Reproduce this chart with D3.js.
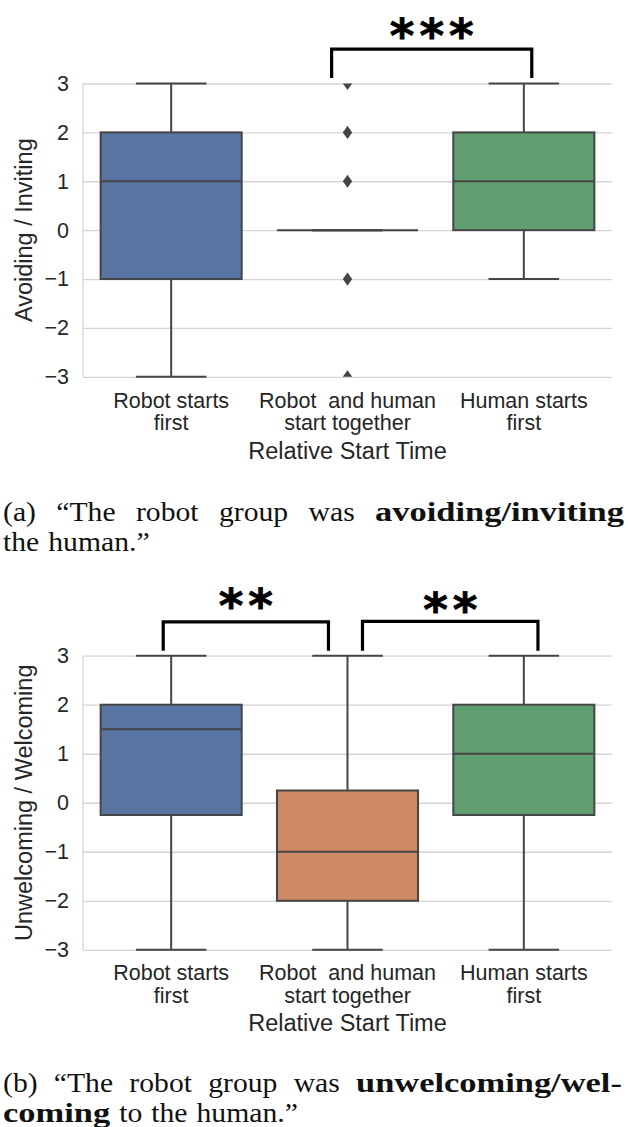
<!DOCTYPE html>
<html>
<head>
<meta charset="utf-8">
<script src="https://cdn.jsdelivr.net/npm/d3@7"></script>
<style>
  body { margin: 0; background: #ffffff; }
  svg { display: block; }
</style>
</head>
<body>
<svg id="chart" width="628" height="1127"></svg>
<script>
// ---------------- data ----------------
const categories = [["Robot starts", "first"], ["Robot  and human", "start together"], ["Human starts", "first"]];
const yTicks = [-3, -2, -1, 0, 1, 2, 3];
const boxColors = ["#5875a4", "#cc8963", "#5f9e6e"];
const xAxisTitle = "Relative Start Time";

// panel (a): Avoiding / Inviting
const aTitle = "Avoiding / Inviting";
const aWhiskerLow  = [-3, 0, -1];
const aQ1          = [-1, 0, 0];
const aMedian      = [1, 0, 1];
const aQ3          = [2, 0, 2];
const aWhiskerHigh = [3, 0, 3];
const aOutliers    = [[], [3, 2, 1, -1, -3], []];
const aBrackets    = [{ from: 0.91, to: 2.045, top: 3.705, leg: 3.11, label: "***", labelAt: 4.2 }];

// panel (b): Unwelcoming / Welcoming
const bTitle = "Unwelcoming / Welcoming";
const bWhiskerLow  = [-3, -3, -3];
const bQ1          = [-0.25, -2, -0.25];
const bMedian      = [1.5, -1, 1];
const bQ3          = [2, 0.25, 2];
const bWhiskerHigh = [3, 3, 3];
const bOutliers    = [[], [], []];
const bBrackets    = [
  { from: -0.045, to: 0.892, top: 3.69, leg: 3.10, label: "**", labelAt: 4.24 },
  { from: 1.085, to: 2.08, top: 3.70, leg: 3.10, label: "**", labelAt: 4.16 }
];

// captions
const aCaption = [
  { justify: true, words: [["(a)", 0], ["\u201CThe", 0], ["robot", 0], ["group", 0], ["was", 0], ["avoiding/inviting", 1]] },
  { justify: false, words: [["the", 0], ["human.\u201D", 0]] }
];
const bCaption = [
  { justify: true, words: [["(b)", 0], ["\u201CThe", 0], ["robot", 0], ["group", 0], ["was", 0], ["unwelcoming/wel-", 1]] },
  { justify: false, words: [["coming", 1], ["to", 0], ["the", 0], ["human.\u201D", 0]] }
];

// ---------------- drawing ----------------
const svg = d3.select("#chart");
const LINE = "#454545";
const TEXT = "#262626";
const SANS = "'Liberation Sans', Arial, sans-serif";
const SERIF = "'Liberation Serif', 'Times New Roman', serif";

function drawPanel(id, cfg, stats, outliers, brackets, yTitle, caption) {
  const g = svg.append("g");
  const x = d3.scaleBand().domain(d3.range(categories.length)).range([cfg.left, cfg.right]).padding(0);
  const xi = d3.scaleLinear().domain([-0.5, categories.length - 0.5]).range([cfg.left, cfg.right]);
  const y = d3.scaleLinear().domain([-3, 3]).range([cfg.bottom, cfg.top]);
  const bw = x.bandwidth();

  g.append("clipPath").attr("id", "clip" + id).append("rect")
    .attr("x", cfg.left).attr("y", cfg.top).attr("width", cfg.right - cfg.left).attr("height", cfg.bottom - cfg.top);

  // y axis with grid
  const yAxis = g.append("g").attr("transform", `translate(${cfg.left},0)`)
    .call(d3.axisLeft(y).tickValues(yTicks).tickSizeInner(-(cfg.right - cfg.left)).tickSizeOuter(0).tickPadding(14).tickFormat(d3.format("d")));
  yAxis.select(".domain").remove();
  yAxis.selectAll(".tick line").attr("stroke", "#d4d4d4").attr("stroke-width", 1.3);
  yAxis.selectAll(".tick text").attr("fill", TEXT).style("font-family", SANS).style("font-size", "21.5px");
  g.append("line").attr("x1", cfg.left).attr("x2", cfg.left).attr("y1", y(3)).attr("y2", y(-3))
    .attr("stroke", "#d4d4d4").attr("stroke-width", 1.3);

  // x axis labels
  const xAxis = g.append("g").attr("transform", `translate(0,${cfg.bottom})`)
    .call(d3.axisBottom(x).tickSize(0).tickFormat(""));
  xAxis.select(".domain").remove();
  xAxis.selectAll(".tick").each(function (d) {
    const t = d3.select(this).select("text").attr("y", 0).attr("dy", null)
      .attr("fill", TEXT).style("font-family", SANS).style("font-size", "21.5px").style("white-space", "pre");
    categories[d].forEach((line, i) => {
      t.append("tspan").attr("x", 0).attr("y", cfg.tick1 - cfg.bottom + i * cfg.tickGap).text(line);
    });
  });

  // axis titles
  g.append("text").attr("x", (cfg.left + cfg.right) / 2).attr("y", cfg.xTitle)
    .attr("text-anchor", "middle").attr("fill", TEXT).style("font-family", SANS).style("font-size", "23.5px")
    .text(xAxisTitle);
  g.append("text").attr("transform", `translate(${cfg.yTitleX},${(cfg.top + cfg.bottom) / 2}) rotate(-90)`)
    .attr("text-anchor", "middle").attr("fill", TEXT).style("font-family", SANS).style("font-size", "23.5px")
    .text(yTitle);

  // boxes
  const [wl, q1, med, q3, wh] = stats;
  const boxes = g.append("g");
  d3.range(categories.length).forEach(i => {
    const cx = x(i) + bw / 2;
    const gb = boxes.append("g");
    gb.append("line").attr("x1", cx).attr("x2", cx).attr("y1", y(q3[i])).attr("y2", y(wh[i])).attr("stroke", LINE).attr("stroke-width", 2);
    gb.append("line").attr("x1", cx).attr("x2", cx).attr("y1", y(q1[i])).attr("y2", y(wl[i])).attr("stroke", LINE).attr("stroke-width", 2);
    [wl[i], wh[i]].forEach(v => {
      gb.append("line").attr("x1", cx - bw * 0.2).attr("x2", cx + bw * 0.2).attr("y1", y(v)).attr("y2", y(v))
        .attr("stroke", LINE).attr("stroke-width", 2);
    });
    gb.append("rect").attr("x", cx - bw * 0.4).attr("width", bw * 0.8)
      .attr("y", y(q3[i])).attr("height", y(q1[i]) - y(q3[i]))
      .attr("fill", boxColors[i]).attr("stroke", LINE).attr("stroke-width", 2);
    gb.append("line").attr("x1", cx - bw * 0.4).attr("x2", cx + bw * 0.4).attr("y1", y(med[i])).attr("y2", y(med[i]))
      .attr("stroke", LINE).attr("stroke-width", 2);
    gb.append("g").attr("clip-path", `url(#clip${id})`).selectAll("path").data(outliers[i]).join("path")
      .attr("d", "M0,-6.6L4.7,0L0,6.6L-4.7,0Z")
      .attr("transform", v => `translate(${cx},${y(v)})`)
      .attr("fill", LINE);
  });

  // significance brackets
  brackets.forEach(b => {
    g.append("path")
      .attr("d", d3.line()([[xi(b.from), y(b.leg)], [xi(b.from), y(b.top)], [xi(b.to), y(b.top)], [xi(b.to), y(b.leg)]]))
      .attr("fill", "none").attr("stroke", "#000").attr("stroke-width", 3.2).attr("stroke-linejoin", "miter");
    const fs = 47;
    g.append("text").attr("x", (xi(b.from) + xi(b.to)) / 2 + 2.5).attr("y", y(b.labelAt) + fs * 0.58)
      .attr("text-anchor", "middle").style("font-family", "'DejaVu Sans', sans-serif").style("font-weight", "bold")
      .style("font-size", fs + "px").style("letter-spacing", "5px").attr("fill", "#000")
      .attr("stroke", "#000").attr("stroke-width", 0.8).text(b.label);
  });

  // caption (justified first line, stretched serif to mimic Computer Modern widths)
  caption.forEach((line, li) => {
    const yy = cfg.caption + li * cfg.captionGap;
    const nodes = line.words.map(w => {
      const t = g.append("text")
        .style("font-family", SERIF).style("font-size", "26.5px").style("font-weight", w[1] ? "bold" : "normal")
        .attr("fill", "#111").text(w[0]);
      return { t, sx: w[1] ? 1.3 : 1.12 };
    });
    const widths = nodes.map(n => n.t.node().getComputedTextLength() * n.sx);
    const gap = line.justify ? (cfg.capRight - cfg.capLeft - d3.sum(widths)) / (widths.length - 1) : 9;
    let xx = cfg.capLeft;
    nodes.forEach((n, i) => {
      n.t.attr("transform", `translate(${xx},${yy}) scale(${n.sx},1)`);
      xx += widths[i] + gap;
    });
  });
}

drawPanel("a",
  { left: 83, right: 612, top: 83.5, bottom: 376.8, tick1: 408, tickGap: 22.5, xTitle: 459.3, yTitleX: 32,
    caption: 521, captionGap: 30, capLeft: 3, capRight: 624 },
  [aWhiskerLow, aQ1, aMedian, aQ3, aWhiskerHigh], aOutliers, aBrackets, aTitle, aCaption);

drawPanel("b",
  { left: 83, right: 612, top: 655.7, bottom: 949.8, tick1: 980.5, tickGap: 22.5, xTitle: 1030.5, yTitleX: 32,
    caption: 1092, captionGap: 30, capLeft: 3, capRight: 622 },
  [bWhiskerLow, bQ1, bMedian, bQ3, bWhiskerHigh], bOutliers, bBrackets, bTitle, bCaption);
</script>
</body>
</html>
